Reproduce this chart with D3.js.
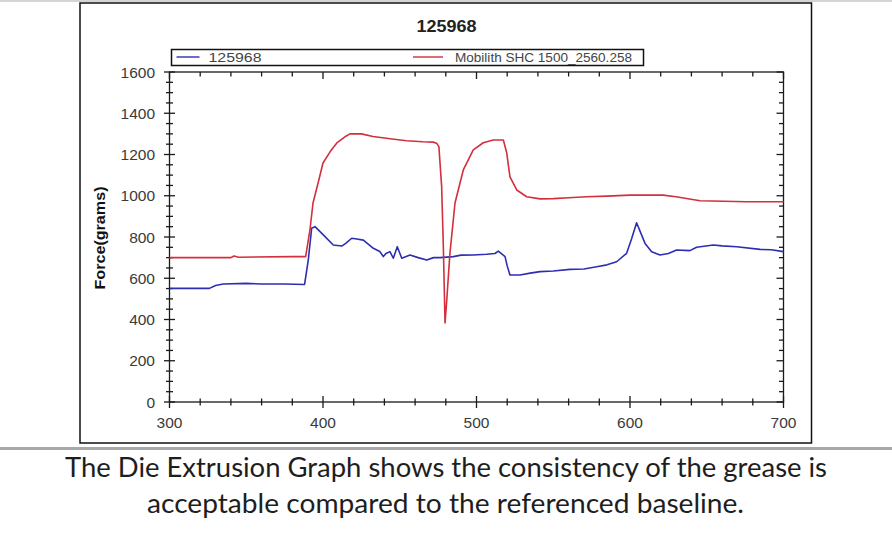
<!DOCTYPE html>
<html>
<head>
<meta charset="utf-8">
<script src="https://cdn.jsdelivr.net/npm/d3@7"></script>
<style>
  body { margin: 0; background: #fff; }
  svg { display: block; }
</style>
</head>
<body>
<svg id="svg" width="892" height="555"></svg>
<script>
// chart data
var chartTitle = "125968"
var yLabel = "Force(grams)"
var seriesNames = ["125968", "Mobilith SHC 1500_2560.258"]
var seriesColours = ["#2e2eb2", "#d32f3c"]
var xTicks = [300, 400, 500, 600, 700]
var yTicks = [0, 200, 400, 600, 800, 1000, 1200, 1400, 1600]
var captionLines = [
    "The Die Extrusion Graph shows the consistency of the grease is",
    "acceptable compared to the referenced baseline."
]

// blue trace (125968)
var blueX = [300, 326, 330, 335, 350, 360, 375, 388, 390.4, 392.6, 394.8, 400.2, 406.7, 412.2, 415, 418.7, 422, 426.3, 432.8, 437, 439.3, 441, 443.6, 445.8, 448.4, 451.3, 456.7, 462, 467.6, 472, 476.2, 484.9, 490, 497.9, 506.6, 512, 514.2, 518.6, 520, 521.8, 528.3, 535, 541.4, 550, 560.9, 570, 578.3, 585, 591.3, 597.8, 601, 604.3, 607, 609.8, 614.1, 619.5, 625, 630.4, 639, 643.4, 654.3, 660, 669.5, 684.7, 692, 700]
var blueY = [551, 551, 565, 572, 575, 572, 572, 570, 688, 842, 850, 810, 761, 756, 770, 794, 790, 785, 745, 730, 705, 720, 729, 697, 753, 697, 713, 700, 688, 700, 700, 705, 712, 713, 716, 720, 732, 705, 660, 616, 616, 625, 632, 635, 643, 645, 656, 665, 680, 721, 790, 869, 820, 769, 729, 713, 720, 737, 734, 750, 761, 757, 753, 740, 738, 729]

// red trace (Mobilith SHC 1500_2560.258)
var redX = [300, 340, 342, 345, 380, 388.7, 391.5, 393.5, 397, 400, 404.6, 409, 414.3, 417.6, 425, 432.6, 445, 454.5, 465, 471.7, 474, 475.5, 477.3, 478.4, 479.5, 480.5, 482.7, 486, 491.4, 497.9, 504.4, 510.9, 517.5, 519.7, 521.8, 526.2, 532.7, 541.4, 550, 560, 571.8, 585, 600, 621.5, 630, 645.6, 676, 700]
var redY = [700, 700, 708, 702, 705, 705, 834, 965, 1068, 1159, 1213, 1256, 1286, 1300, 1300, 1287, 1275, 1267, 1262, 1260, 1255, 1238, 1044, 753, 383, 480, 722, 965, 1125, 1222, 1257, 1270, 1270, 1207, 1092, 1028, 995, 985, 986, 990, 995, 998, 1003, 1003, 995, 976, 971, 971]

var svg = d3.select("svg")

// page rules from the document around the chart
svg.append("line").attr("x1", 0).attr("x2", 892).attr("y1", 1).attr("y2", 1)
    .attr("stroke", "#d4d4d4").attr("stroke-width", 2)
svg.append("line").attr("x1", 0).attr("x2", 892).attr("y1", 448.5).attr("y2", 448.5)
    .attr("stroke", "#a8a8a8").attr("stroke-width", 3)

// outer frame of the pasted chart image
svg.append("rect").attr("x", 80).attr("y", 3).attr("width", 731.5).attr("height", 440)
    .attr("fill", "#fff").attr("stroke", "#111").attr("stroke-width", 1.5)

// plot area (named plotTop etc, plain "top" clashes with window.top)
var plotLeft = 169.5, plotRight = 783.5, plotTop = 72, plotBottom = 402
var x = d3.scaleLinear().domain([300, 700]).range([plotLeft, plotRight])
var y = d3.scaleLinear().domain([0, 1600]).range([plotBottom, plotTop])

var minorX = d3.range(300, 701, 20)
var minorY = d3.range(0, 1601, 50)

var axisCol = "#1a1a1a"
var g = svg.append("g")

// axis lines on all four sides
g.append("rect").attr("x", plotLeft).attr("y", plotTop)
    .attr("width", plotRight - plotLeft).attr("height", plotBottom - plotTop)
    .attr("fill", "none").attr("stroke", axisCol).attr("stroke-width", 1.3)

// bottom ticks cross the axis line
g.selectAll(".bx").data(minorX).enter().append("line")
    .attr("x1", d => x(d)).attr("x2", d => x(d))
    .attr("y1", d => plotBottom - (d % 100 === 0 ? 6 : 3.5))
    .attr("y2", d => plotBottom + (d % 100 === 0 ? 6 : 3.5))
    .attr("stroke", axisCol).attr("stroke-width", 1.3)
// top ticks point inside
g.selectAll(".tx").data(minorX).enter().append("line")
    .attr("x1", d => x(d)).attr("x2", d => x(d))
    .attr("y1", plotTop).attr("y2", d => plotTop + (d % 100 === 0 ? 7 : 4.5))
    .attr("stroke", axisCol).attr("stroke-width", 1.3)
// left ticks cross the axis line
g.selectAll(".ly").data(minorY).enter().append("line")
    .attr("y1", d => y(d)).attr("y2", d => y(d))
    .attr("x1", d => plotLeft - (d % 200 === 0 ? 5.5 : 3.5))
    .attr("x2", d => plotLeft + (d % 200 === 0 ? 5.5 : 3.5))
    .attr("stroke", axisCol).attr("stroke-width", 1.3)
// right ticks point inside
g.selectAll(".ry").data(minorY).enter().append("line")
    .attr("y1", d => y(d)).attr("y2", d => y(d))
    .attr("x1", plotRight).attr("x2", d => plotRight - (d % 200 === 0 ? 7 : 4.5))
    .attr("stroke", axisCol).attr("stroke-width", 1.3)

// tick labels
g.selectAll(".xl").data(xTicks).enter().append("text")
    .attr("x", d => x(d)).attr("y", 428)
    .attr("text-anchor", "middle")
    .attr("font-family", "Liberation Sans, Arial, sans-serif").attr("font-size", 15.5)
    .attr("fill", "#3a3a3a")
    .text(d => d)
g.selectAll(".yl").data(yTicks).enter().append("text")
    .attr("x", 155).attr("y", d => y(d) + 5.5)
    .attr("text-anchor", "end")
    .attr("font-family", "Liberation Sans, Arial, sans-serif").attr("font-size", 15.5)
    .attr("fill", "#3a3a3a")
    .text(d => d)

// y axis title
svg.append("text")
    .attr("transform", "translate(105,238) rotate(-90)")
    .attr("text-anchor", "middle")
    .attr("font-family", "Liberation Sans, Arial, sans-serif").attr("font-size", 14)
    .attr("font-weight", "bold").attr("fill", "#111")
    .attr("textLength", 103).attr("lengthAdjust", "spacingAndGlyphs")
    .text(yLabel)

// chart title
svg.append("text")
    .attr("x", 446.5).attr("y", 31.5)
    .attr("text-anchor", "middle")
    .attr("font-family", "Liberation Sans, Arial, sans-serif").attr("font-size", 17)
    .attr("font-weight", "bold").attr("fill", "#222")
    .attr("textLength", 60).attr("lengthAdjust", "spacingAndGlyphs")
    .text(chartTitle)

// the two traces
var line = d3.line().x(d => x(d[0])).y(d => y(d[1]))
var series = [d3.zip(blueX, blueY), d3.zip(redX, redY)]
g.selectAll(".trace").data(series).enter().append("path")
    .attr("class", "trace")
    .attr("d", line)
    .attr("fill", "none")
    .attr("stroke", (d, i) => seriesColours[i])
    .attr("stroke-width", 1.6)
    .attr("stroke-linejoin", "round")

// legend box sits just above the plot
var legend = svg.append("g")
legend.append("rect").attr("x", 171.5).attr("y", 49.5).attr("width", 472).attr("height", 16)
    .attr("fill", "#fff").attr("stroke", "#111").attr("stroke-width", 1.5)
var legendItems = [
    { lx: 176.5, len: 23, tx: 208.5, tw: 53 },
    { lx: 413, len: 30, tx: 455, tw: 177 }
]
legendItems.forEach(function (it, i) {
    legend.append("line").attr("x1", it.lx).attr("x2", it.lx + it.len).attr("y1", 57).attr("y2", 57)
        .attr("stroke", seriesColours[i]).attr("stroke-width", 1.4)
    legend.append("text").attr("x", it.tx).attr("y", 61.5)
        .attr("font-family", "Liberation Sans, Arial, sans-serif").attr("font-size", 12.5)
        .attr("fill", "#444")
        .attr("textLength", it.tw).attr("lengthAdjust", "spacingAndGlyphs")
        .text(seriesNames[i])
})

// caption below the chart
var capX = [65, 147], capW = [762, 597], capY = [476.5, 513]
captionLines.forEach(function (t, i) {
    svg.append("text").attr("x", capX[i]).attr("y", capY[i])
        .attr("font-family", "Lato, 'Open Sans', sans-serif").attr("font-size", 26)
        .attr("fill", "#1e1e1e")
        .attr("textLength", capW[i]).attr("lengthAdjust", "spacingAndGlyphs")
        .text(t)
})
</script>
</body>
</html>
